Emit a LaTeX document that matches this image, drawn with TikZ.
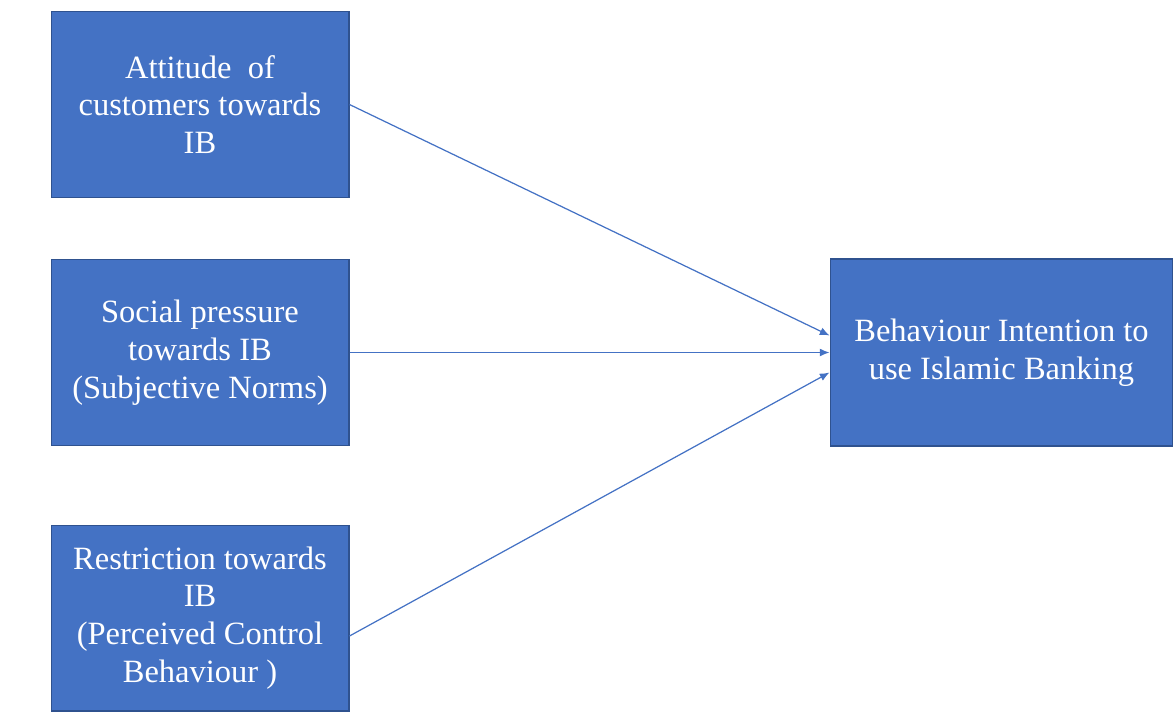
\documentclass[tikz,border=0pt]{standalone}
\usepackage{fontspec}
\setmainfont{Liberation Serif}
\usepackage{xcolor}
\definecolor{myblue}{HTML}{4472C4}
\definecolor{myedge}{HTML}{2F528F}
\usepackage{tikz}
\usetikzlibrary{positioning}
\usetikzlibrary{arrows.meta}
\tikzstyle{factor} = [rectangle, minimum width=5.96cm, minimum height=3.72cm, text centered, draw=myedge, line width=0.6pt, fill=myblue, text=white, font=\fontsize{18.5}{21.5}\selectfont]
\tikzstyle{target} = [rectangle, minimum width=6.86cm, minimum height=3.74cm, text centered, draw=myedge, line width=0.6pt, fill=myblue, text=white, font=\fontsize{18.5}{21.5}\selectfont]
\tikzstyle{link} = [->,>={Latex[length=5.5pt,width=4.5pt]},line width=0.7pt,myblue]

\begin{document}
\begin{tikzpicture}[align=center,x=0.02cm,y=-0.02cm]
	\useasboundingbox (0,0) rectangle (1173,711);
	\node (att) [factor] at (200,104.5) {Attitude~ of\\customers towards\\IB};
	\node (soc) [factor] at (200,352.5) {Social pressure\\towards IB\\(Subjective Norms)};
	\node (res) [factor] at (200,618) {Restriction towards\\IB\\(Perceived Control\\Behaviour )};
	\node (bi) [target] at (1001.5,352.5) {Behaviour Intention to\\use Islamic Banking};
	\draw [link] (att.east) -- ([yshift=0.34cm]bi.west);
	\draw [link] (soc.east) -- (bi.west);
	\draw [link] ([yshift=-0.36cm]res.east) -- ([yshift=-0.4cm]bi.west);
\end{tikzpicture}
\end{document}
